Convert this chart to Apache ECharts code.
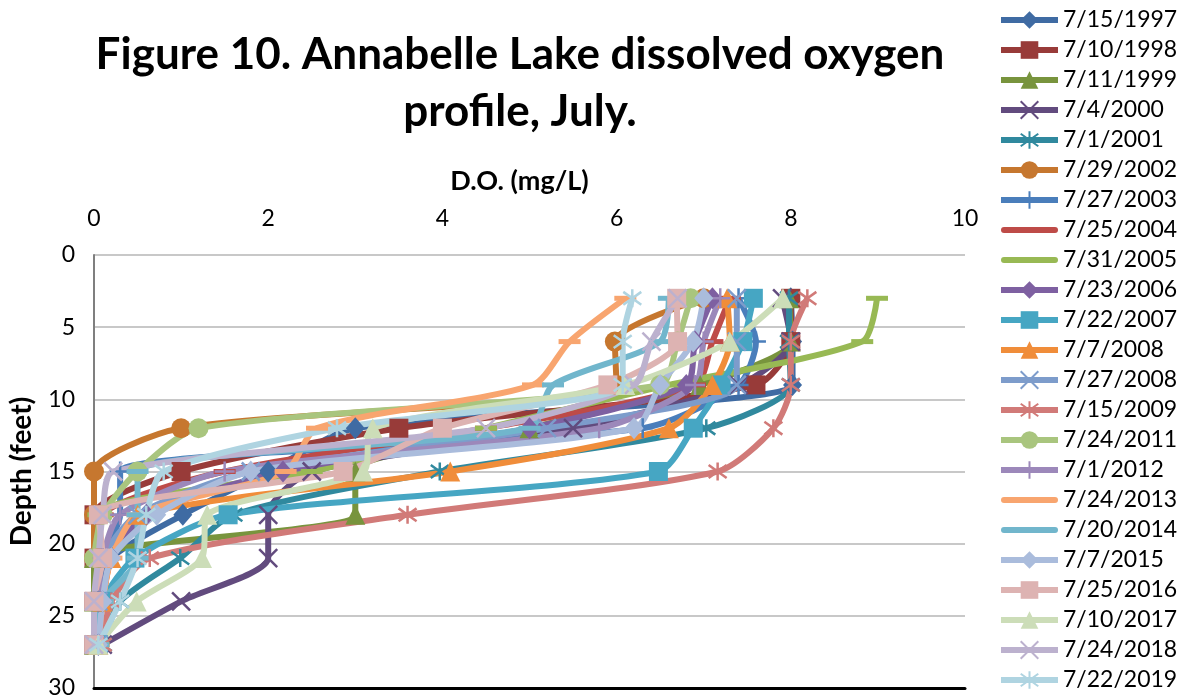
<!DOCTYPE html>
<html>
<head>
<meta charset="utf-8">
<script src="https://cdn.jsdelivr.net/npm/echarts@6/dist/echarts.min.js"></script>
<style>html,body{margin:0;padding:0;background:#fff;}#c{width:1183px;height:700px;}</style>
</head>
<body>
<div id="c"></div>
<script>
// ---- data ----
const depths = [3, 6, 9, 12, 15, 18, 21, 24, 27];
const xTicks = [0, 2, 4, 6, 8, 10];
const yTicks = [0, 5, 10, 15, 20, 25, 30];
const seriesNames = ['7/15/1997','7/10/1998','7/11/1999','7/4/2000','7/1/2001','7/29/2002','7/27/2003','7/25/2004','7/31/2005','7/23/2006','7/22/2007','7/7/2008','7/27/2008','7/15/2009','7/24/2011','7/1/2012','7/24/2013','7/20/2014','7/7/2015','7/25/2016','7/10/2017','7/24/2018','7/22/2019'];
const do1997 = [8.0, 8.02, 8.02, 3.0, 2.0, 1.02, 0.2, 0.05, 0.05];
const do1998 = [8.0, 8.0, 7.6, 3.5, 1.0, 0.0, 0.0, 0.0, 0.0];
const do1999 = [7.98, 8.0, 6.96, 5.0, 3.0, 3.0, 0.0, 0.0, 0.0];
const do2000 = [7.9, 8.0, 7.4, 5.5, 2.5, 2.0, 2.0, 1.0, 0.1];
const do2001 = [7.98, 7.98, 8.0, 7.03, 3.97, 1.6, 0.99, 0.3, 0.1];
const do2002 = [7.0, 5.98, 6.0, 1.0, 0.0, 0.0, 0.0, null, null];
const do2003 = [7.4, 7.6, 7.4, 6.3, 0.3, 0.3, 0.1, 0.05, 0.05];
const do2004 = [7.3, 7.1, 6.9, 4.5, 1.5, 0.1, 0.05, 0.05, 0.05];
const do2005 = [8.99, 8.82, 6.6, 4.5, 2.5, 0.05, 0.05, 0.05, 0.05];
const do2006 = [7.1, 6.9, 6.8, 5.0, 2.17, 0.6, 0.2, 0.1, 0.05];
const do2007 = [7.57, 7.45, 7.2, 6.88, 6.48, 1.54, 0.47, 0.1, 0.05];
const do2008a = [7.27, 7.3, 7.1, 6.6, 4.09, 0.5, 0.2, 0.1, 0.05];
const do2008b = [7.38, 7.38, 7.38, 5.2, 1.8, 0.5, 0.1, 0.05, 0.05];
const do2009 = [8.19, 8.0, 8.0, 7.8, 7.16, 3.6, 0.64, 0.2, 0.1];
const do2011 = [6.85, 6.7, 6.5, 1.2, 0.5, 0.1, 0.0, null, null];
const do2012 = [7.19, 7.0, 6.9, 5.8, 1.5, 0.3, 0.1, 0.05, 0.05];
const do2013 = [6.1, 5.46, 5.04, 2.56, 2.2, 0.5, 0.2, 0.1, 0.05];
const do2014 = [6.6, 6.5, 5.27, 5.0, 0.5, 0.5, 0.5, 0.1, 0.05];
const do2015 = [7.0, 6.88, 6.5, 6.2, 1.8, 0.72, 0.2, 0.1, 0.05];
const do2016 = [6.69, 6.7, 5.9, 4.0, 2.86, 0.05, 0.1, 0.0, 0.0];
const do2017 = [7.91, 7.3, 6.1, 3.2, 3.09, 1.3, 1.24, 0.49, 0.05];
const do2018 = [6.7, 6.4, 6.2, 4.5, 0.22, 0.1, 0.05, 0.0, 0.0];
const do2019 = [6.18, 6.07, 6.07, 2.79, 0.8, 0.6, 0.5, 0.3, 0.05];
const seriesValues = [do1997, do1998, do1999, do2000, do2001, do2002, do2003, do2004, do2005, do2006, do2007, do2008a, do2008b, do2009, do2011, do2012, do2013, do2014, do2015, do2016, do2017, do2018, do2019];

// ---- styles ----
const colors = ['#3F6BA3','#983B39','#78943D','#624B7E','#30899E','#C6772F','#4A7EBB','#BE4B48','#98B954','#7E60A1','#46A6C3','#F08D3A','#7D9CCB','#D17A78','#A9C57E','#9C88BA','#F8A56F','#71B6CC','#AABCDC','#DDB3B2','#CCDDB8','#BCB1CE','#AFD4E1'];
const X = 'path://M0,0L10,10M10,0L0,10';
const STAR = 'path://M0,0L10,10M10,0L0,10M5,-2L5,12';
const PLUS = 'path://M5,0L5,10M0,5L10,5';
const BAR = 'path://M3,0L54,0A3,3,0,0,1,54,6L3,6A3,3,0,0,1,3,0Z';
const kinds = ['diamond','rect','triangle','x','star','circle','plus','dash','dash','diamond','rect','triangle','x','star','circle','plus','dash','dash','diamond','rect','triangle','x','star'];

function symbolFor(k) {
  switch (k) {
    case 'diamond': return {symbol: 'diamond', size: [19, 22], stroke: false};
    case 'rect': return {symbol: 'rect', size: 19, stroke: false};
    case 'triangle': return {symbol: 'triangle', size: 20, stroke: false};
    case 'circle': return {symbol: 'circle', size: 20, stroke: false};
    case 'x': return {symbol: X, size: 18, stroke: true};
    case 'star': return {symbol: STAR, size: 18, stroke: true};
    case 'plus': return {symbol: PLUS, size: 20, stroke: true};
    case 'dash': return {symbol: 'rect', size: [22, 5], stroke: false};
  }
}

const series = seriesNames.map((name, i) => {
  const s = symbolFor(kinds[i]);
  const data = seriesValues[i].map((v, j) => v === null ? null : [v, depths[j]]).filter(p => p !== null);
  return {
    name: name,
    type: 'line',
    data: data,
    smooth: 0.25,
    symbol: s.symbol,
    symbolSize: s.size,
    showSymbol: true,
    lineStyle: {color: colors[i], width: 6},
    itemStyle: {color: colors[i], borderColor: colors[i], borderWidth: s.stroke ? 2.5 : 0},
    emphasis: {disabled: true},
    animation: false
  };
});

const legendData = seriesNames.map((n, i) => kinds[i] === 'dash' ? {name: n, icon: BAR} : {name: n});

const chart = echarts.init(document.getElementById('c'));
chart.setOption({
  animation: false,
  backgroundColor: '#fff',
  title: {
    text: 'Figure 10. Annabelle Lake dissolved oxygen\nprofile, July.',
    left: 515, top: 21, textAlign: 'center',
    textStyle: {fontFamily: 'Lato', fontWeight: 'bold', fontSize: 44, lineHeight: 57, color: '#000'}
  },
  legend: {
    orient: 'vertical', left: 998, top: 8, padding: 0,
    itemWidth: 57, itemHeight: 22, itemGap: 6,
    lineStyle: {width: 6},
    textStyle: {fontFamily: 'Lato', fontSize: 23, lineHeight: 24, color: '#000'},
    data: legendData
  },
  grid: {left: 94, right: 218, top: 255, bottom: 12, containLabel: false},
  xAxis: [{
    type: 'value', position: 'top', min: xTicks[0], max: xTicks[xTicks.length-1], interval: 2,
    name: 'D.O. (mg/L)', nameLocation: 'middle', nameGap: 60,
    nameTextStyle: {fontFamily: 'Lato', fontWeight: 'bold', fontSize: 27, color: '#000', padding: [0, 20, 0, 0]},
    axisLine: {show: false}, axisTick: {show: false}, splitLine: {show: false},
    axisLabel: {fontFamily: 'Lato', fontSize: 23, color: '#000', margin: 25}
  }, {
    type: 'value', position: 'bottom', min: 0, max: 10, interval: 2,
    axisLine: {show: true, lineStyle: {color: '#000', width: 3}},
    axisTick: {show: false}, axisLabel: {show: false}, splitLine: {show: false}
  }],
  yAxis: {
    type: 'value', inverse: true, min: yTicks[0], max: yTicks[yTicks.length-1], interval: 5,
    name: 'Depth (feet)', nameLocation: 'middle', nameGap: 58, nameRotate: 90,
    nameTextStyle: {fontFamily: 'Lato', fontWeight: 'bold', fontSize: 28, color: '#000'},
    axisLine: {show: true, lineStyle: {color: '#7F7F7F', width: 2}},
    axisTick: {show: false},
    splitLine: {show: true, lineStyle: {color: '#C8C8C8', width: 2}},
    axisLabel: {fontFamily: 'Lato', fontSize: 23, color: '#000', margin: 19}
  },
  series: series
});
</script>
</body>
</html>
